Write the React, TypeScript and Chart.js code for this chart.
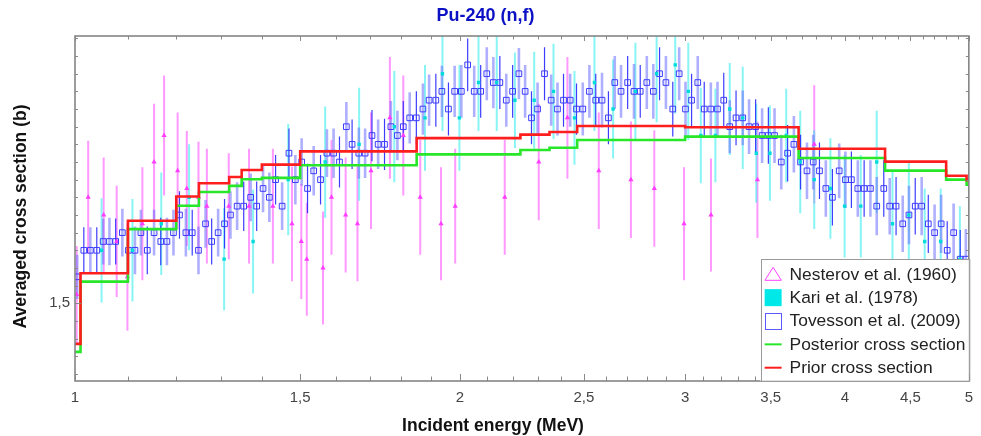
import React, { useEffect, useRef } from 'react';
import { Chart, registerables } from 'chart.js';

Chart.register(...registerables);

const FONT = "'Liberation Sans', Arial, Helvetica, sans-serif";

const chartTitle = 'Pu-240 (n,f)';
const xAxisTitle = 'Incident energy (MeV)';
const yAxisTitle = 'Averaged cross section (b)';

const xMin = 1;
const xMax = 5;
const yMin = 1.412;
const yMax = 1.8027;

const xMajorTicks = [1, 1.5, 2, 2.5, 3, 3.5, 4, 4.5, 5];
const xTickLabels = ['1', '1,5', '2', '2,5', '3', '3,5', '4', '4,5', '5'];
const xMinorTicks = [1.1, 1.2, 1.3, 1.4, 1.6, 1.7, 1.8, 1.9, 2.1, 2.2, 2.3, 2.4, 2.6, 2.7, 2.8, 2.9, 3.1, 3.2, 3.3, 3.4, 3.6, 3.7, 3.8, 3.9, 4.1, 4.2, 4.3, 4.4, 4.6, 4.7, 4.8, 4.9];
const yMajorTicks = [1.5];
const yTickLabels = ['1,5'];
const yMinorTicks = [1.42, 1.44, 1.46, 1.48, 1.52, 1.54, 1.56, 1.58, 1.6, 1.62, 1.64, 1.66, 1.68, 1.7, 1.72, 1.74, 1.76, 1.78, 1.8];

const legendLabels = ['Nesterov et al. (1960)', 'Kari et al. (1978)', 'Tovesson et al. (2009)', 'Posterior cross section', 'Prior cross section'];

// Nesterov et al. (1960)
const nesterovEnergy = [1.003, 1.024, 1.053, 1.078, 1.099, 1.129, 1.153, 1.174, 1.203, 1.223, 1.249, 1.268, 1.319, 1.368, 1.428, 1.478, 1.503, 1.518, 1.563, 1.587, 1.628, 1.663, 1.704, 1.763, 1.806, 1.862, 1.933, 1.983, 2.168, 2.305, 2.427, 2.568, 2.721, 2.838, 2.994, 3.143, 3.417, 3.785];
const nesterovXs = [1.51, 1.62, 1.60, 1.57, 1.53, 1.59, 1.66, 1.69, 1.65, 1.63, 1.62, 1.61, 1.61, 1.61, 1.61, 1.59, 1.57, 1.55, 1.54, 1.62, 1.60, 1.59, 1.65, 1.71, 1.69, 1.62, 1.59, 1.61, 1.62, 1.66, 1.71, 1.65, 1.64, 1.63, 1.59, 1.60, 1.64, 1.68];
const nesterovErr = [0.055, 0.064, 0.065, 0.063, 0.061, 0.064, 0.066, 0.068, 0.066, 0.065, 0.063, 0.065, 0.060, 0.065, 0.065, 0.065, 0.065, 0.064, 0.064, 0.065, 0.065, 0.065, 0.066, 0.069, 0.068, 0.065, 0.064, 0.065, 0.065, 0.066, 0.069, 0.066, 0.066, 0.066, 0.064, 0.064, 0.066, 0.067];

// Kari et al. (1978)
const kariEnergy = [1.049, 1.109, 1.168, 1.228, 1.308, 1.378, 1.468, 1.569, 1.668, 1.777, 1.878, 1.938, 1.998, 2.068, 2.137, 2.208, 2.286, 2.367, 2.458, 2.548, 2.635, 2.743, 2.850, 2.947, 3.017, 3.086, 3.168, 3.251, 3.328, 3.410, 3.495, 3.599, 3.691, 3.785, 3.897, 3.998, 4.116, 4.236, 4.358, 4.488, 4.618, 4.753, 4.920];
const kariXs = [1.56, 1.56, 1.59, 1.62, 1.55, 1.57, 1.64, 1.66, 1.68, 1.70, 1.71, 1.76, 1.71, 1.75, 1.75, 1.73, 1.73, 1.74, 1.71, 1.75, 1.72, 1.74, 1.76, 1.77, 1.74, 1.69, 1.69, 1.72, 1.71, 1.67, 1.67, 1.69, 1.66, 1.64, 1.63, 1.61, 1.61, 1.66, 1.59, 1.60, 1.57, 1.57, 1.55];
const kariErr = [0.059, 0.058, 0.058, 0.060, 0.058, 0.059, 0.063, 0.063, 0.064, 0.063, 0.060, 0.065, 0.060, 0.055, 0.055, 0.054, 0.055, 0.054, 0.053, 0.055, 0.056, 0.055, 0.055, 0.055, 0.055, 0.054, 0.053, 0.052, 0.058, 0.056, 0.054, 0.053, 0.058, 0.056, 0.057, 0.058, 0.058, 0.058, 0.060, 0.060, 0.060, 0.060, 0.060];

// Tovesson et al. (2009)
const tovessonEnergy = [
  1.004, 1.016, 1.028, 1.040, 1.052, 1.064, 1.076, 1.089, 1.101, 1.114,
  1.126, 1.139, 1.153, 1.167, 1.180, 1.194, 1.207, 1.221, 1.235, 1.249,
  1.265, 1.279, 1.294, 1.309, 1.323, 1.339, 1.355, 1.372, 1.387, 1.403,
  1.419, 1.435, 1.452, 1.470, 1.487, 1.504, 1.520, 1.537, 1.556, 1.574,
  1.593, 1.610, 1.630, 1.647, 1.667, 1.686, 1.707, 1.726, 1.746, 1.766,
  1.787, 1.806, 1.827, 1.849, 1.871, 1.892, 1.915, 1.936, 1.959, 1.981,
  2.005, 2.028, 2.052, 2.076, 2.099, 2.124, 2.149, 2.174, 2.199, 2.224,
  2.249, 2.275, 2.300, 2.329, 2.357, 2.384, 2.410, 2.439, 2.467, 2.495,
  2.525, 2.554, 2.583, 2.613, 2.643, 2.673, 2.705, 2.736, 2.767, 2.800,
  2.833, 2.865, 2.898, 2.934, 2.968, 3.002, 3.035, 3.069, 3.105, 3.142,
  3.180, 3.216, 3.251, 3.288, 3.328, 3.366, 3.406, 3.446, 3.485, 3.524,
  3.567, 3.608, 3.649, 3.693, 3.736, 3.778, 3.821, 3.865, 3.911, 3.959,
  4.004, 4.047, 4.094, 4.141, 4.188, 4.236, 4.290, 4.336, 4.386, 4.439,
  4.489, 4.540, 4.593, 4.648, 4.701, 4.757, 4.809, 4.865, 4.923, 4.973,
];
const tovessonXs = [
  1.53, 1.56, 1.56, 1.56, 1.57, 1.57, 1.57, 1.58, 1.56, 1.56,
  1.58, 1.56, 1.58, 1.57, 1.57, 1.58, 1.60, 1.58, 1.58, 1.56,
  1.59, 1.57, 1.58, 1.59, 1.60, 1.61, 1.61, 1.62, 1.61, 1.63,
  1.62, 1.64, 1.61, 1.67, 1.64, 1.66, 1.63, 1.65, 1.64, 1.67,
  1.67, 1.66, 1.70, 1.68, 1.67, 1.67, 1.69, 1.68, 1.68, 1.70,
  1.69, 1.70, 1.71, 1.71, 1.72, 1.73, 1.73, 1.74, 1.72, 1.74,
  1.74, 1.77, 1.74, 1.74, 1.76, 1.75, 1.75, 1.73, 1.74, 1.76,
  1.74, 1.71, 1.72, 1.76, 1.73, 1.72, 1.73, 1.73, 1.72, 1.72,
  1.74, 1.73, 1.73, 1.71, 1.75, 1.74, 1.75, 1.74, 1.74, 1.75,
  1.74, 1.76, 1.75, 1.72, 1.76, 1.72, 1.73, 1.75, 1.72, 1.72,
  1.72, 1.73, 1.70, 1.71, 1.71, 1.70, 1.70, 1.69, 1.69, 1.69,
  1.66, 1.67, 1.68, 1.66, 1.65, 1.66, 1.65, 1.63, 1.62, 1.65,
  1.64, 1.64, 1.63, 1.63, 1.63, 1.61, 1.63, 1.61, 1.61, 1.59,
  1.60, 1.61, 1.61, 1.59, 1.58, 1.59, 1.56, 1.58, 1.55, 1.55,
];
const tovessonErr = [
  0.025, 0.026, 0.026, 0.026, 0.026, 0.027, 0.026, 0.027, 0.026, 0.027,
  0.026, 0.027, 0.026, 0.027, 0.027, 0.026, 0.027, 0.027, 0.026, 0.027,
  0.027, 0.026, 0.027, 0.028, 0.027, 0.027, 0.028, 0.027, 0.028, 0.027,
  0.028, 0.028, 0.027, 0.028, 0.028, 0.027, 0.028, 0.028, 0.028, 0.027,
  0.028, 0.029, 0.028, 0.028, 0.029, 0.028, 0.029, 0.028, 0.029, 0.029,
  0.028, 0.029, 0.029, 0.030, 0.029, 0.029, 0.030, 0.029, 0.030, 0.029,
  0.030, 0.030, 0.029, 0.030, 0.030, 0.029, 0.030, 0.030, 0.030, 0.029,
  0.030, 0.030, 0.030, 0.030, 0.029, 0.030, 0.030, 0.030, 0.029, 0.030,
  0.030, 0.030, 0.031, 0.030, 0.030, 0.030, 0.030, 0.031, 0.030, 0.030,
  0.031, 0.030, 0.030, 0.031, 0.030, 0.031, 0.030, 0.030, 0.031, 0.030,
  0.031, 0.031, 0.030, 0.031, 0.031, 0.031, 0.031, 0.031, 0.032, 0.031,
  0.031, 0.032, 0.032, 0.031, 0.032, 0.031, 0.032, 0.032, 0.032, 0.031,
  0.032, 0.032, 0.032, 0.032, 0.032, 0.033, 0.032, 0.032, 0.033, 0.032,
  0.033, 0.032, 0.033, 0.033, 0.032, 0.033, 0.033, 0.033, 0.033, 0.034,
];

// Group-averaged cross sections (bin edges in MeV, one value per bin)
const stepEdges = [1.0, 1.01, 1.1, 1.2, 1.25, 1.32, 1.35, 1.4, 1.5, 1.85, 2.23, 2.35, 2.47, 3.0, 3.68, 4.3, 4.8, 4.98, 5.0];
const priorValues = [1.454, 1.534, 1.5935, 1.621, 1.636, 1.643, 1.651, 1.657, 1.672, 1.687, 1.691, 1.694, 1.7008, 1.6993, 1.675, 1.6604, 1.6445, 1.6393];
const posteriorValues = [1.445, 1.5245, 1.584, 1.6105, 1.626, 1.633, 1.6404, 1.642, 1.6563, 1.6687, 1.6736, 1.6762, 1.6849, 1.6887, 1.6646, 1.6502, 1.640, 1.6343];

const points = (xs: number[], ys: number[]) => xs.map((x, i) => ({ x, y: ys[i] }));
const steps = (edges: number[], vals: number[]) =>
  edges.map((x, i) => ({ x, y: vals[Math.min(i, vals.length - 1)] }));

const findLabel = (ticks: number[], labels: string[], v: number) => {
  const idx = ticks.findIndex((t) => Math.abs(t - v) < 1e-9);
  return idx >= 0 ? labels[idx] : '';
};

const errorBarsPlugin = {
  id: 'errorBars',
  beforeDatasetsDraw(chart: any) {
    const { ctx, chartArea: a, scales } = chart;
    const xs = scales.x;
    const ys = scales.y;
    ctx.save();
    ctx.beginPath();
    ctx.rect(a.left, a.top, a.right - a.left, a.bottom - a.top);
    ctx.clip();
    chart.data.datasets.forEach((ds: any) => {
      if (!ds.errorBars) return;
      ds.data.forEach((p: any, i: number) => {
        const e = ds.errorBars[i];
        if (e == null) return;
        const px = xs.getPixelForValue(p.x);
        const y1 = ys.getPixelForValue(p.y - e);
        const y2 = ys.getPixelForValue(p.y + e);
        const alt = ds.errorAltColor && (i % 5 === 1 || i % 5 === 3);
        ctx.strokeStyle = alt ? ds.errorAltColor : ds.errorColor;
        ctx.lineWidth = alt ? ds.errorAltWidth : ds.errorWidth;
        ctx.beginPath();
        ctx.moveTo(px, y1);
        ctx.lineTo(px, y2);
        ctx.stroke();
      });
    });
    ctx.restore();
  },
};

const frameTicksPlugin = {
  id: 'frameTicks',
  afterDatasetsDraw(chart: any) {
    const { ctx, chartArea: a, scales } = chart;
    const xs = scales.x;
    const ys = scales.y;
    ctx.save();
    ctx.strokeStyle = '#8a8a8a';
    ctx.lineWidth = 1;
    const xTick = (v: number, lenB: number, lenT: number) => {
      const px = Math.round(xs.getPixelForValue(v)) + 0.5;
      ctx.beginPath();
      ctx.moveTo(px, a.bottom);
      ctx.lineTo(px, a.bottom - lenB);
      ctx.moveTo(px, a.top);
      ctx.lineTo(px, a.top + lenT);
      ctx.stroke();
    };
    const yTick = (v: number, lenL: number, lenR: number) => {
      const py = Math.round(ys.getPixelForValue(v)) + 0.5;
      ctx.beginPath();
      ctx.moveTo(a.left, py);
      ctx.lineTo(a.left + lenL, py);
      ctx.moveTo(a.right, py);
      ctx.lineTo(a.right - lenR, py);
      ctx.stroke();
    };
    xMinorTicks.forEach((v) => xTick(v, 4.5, 3.5));
    xMajorTicks.forEach((v) => xTick(v, 7, 5));
    yMinorTicks.forEach((v) => yTick(v, 3, 3));
    yMajorTicks.forEach((v) => yTick(v, 6, 5));
    ctx.strokeStyle = '#858585';
    ctx.lineWidth = 1.6;
    ctx.strokeRect(a.left, a.top, a.right - a.left, a.bottom - a.top);
    ctx.restore();
  },
};

const axisTitlesPlugin = {
  id: 'axisTitles',
  afterDraw(chart: any) {
    const { ctx, width } = chart;
    ctx.save();
    ctx.fillStyle = '#111111';
    ctx.font = `bold 17.5px ${FONT}`;
    ctx.textAlign = 'center';
    ctx.textBaseline = 'alphabetic';
    ctx.fillText(xAxisTitle, width / 2 + 2.5, 431);
    ctx.translate(25.5, 216.5);
    ctx.rotate(-Math.PI / 2);
    ctx.fillText(yAxisTitle, 0, 0);
    ctx.restore();
  },
};

const legendBoxPlugin = {
  id: 'legendBox',
  afterDraw(chart: any) {
    const { ctx, chartArea: a } = chart;
    const w = 208.3;
    const h = 121.7;
    const left = a.right - w;
    const top = a.bottom - h;
    ctx.save();
    ctx.fillStyle = '#ffffff';
    ctx.fillRect(left, top, w, h);
    ctx.strokeStyle = '#9a9a9a';
    ctx.lineWidth = 1;
    ctx.strokeRect(Math.round(left) + 0.5, Math.round(top) + 0.5, w, h);
    ctx.font = `17.4px ${FONT}`;
    ctx.textAlign = 'left';
    ctx.textBaseline = 'middle';
    const sx = left + 12.6;
    chart.data.datasets.forEach((ds: any, i: number) => {
      const cy = top + 15 + i * 23.35;
      const sym = ds.legendSymbol;
      if (sym === 'triangle') {
        ctx.strokeStyle = '#ff40ff';
        ctx.lineWidth = 1;
        ctx.beginPath();
        ctx.moveTo(sx, cy - 7);
        ctx.lineTo(sx + 8.2, cy + 6);
        ctx.lineTo(sx - 8.2, cy + 6);
        ctx.closePath();
        ctx.stroke();
      } else if (sym === 'filledSquare') {
        ctx.fillStyle = '#00e8e8';
        ctx.fillRect(sx - 8.5, cy - 8.5, 17, 17);
      } else if (sym === 'openSquare') {
        ctx.strokeStyle = '#5a5aff';
        ctx.lineWidth = 1;
        ctx.strokeRect(Math.round(sx - 8.5) + 0.5, Math.round(cy - 8.5) + 0.5, 16, 16);
      } else if (sym === 'line') {
        ctx.strokeStyle = ds.borderColor;
        ctx.lineWidth = 2;
        ctx.beginPath();
        ctx.moveTo(sx - 8.5, cy);
        ctx.lineTo(sx + 8.5, cy);
        ctx.stroke();
      }
      ctx.fillStyle = '#222222';
      ctx.fillText(ds.label, left + 29, cy + 0.5);
    });
    ctx.restore();
  },
};

export default function App() {
  const canvasRef = useRef<HTMLCanvasElement | null>(null);

  useEffect(() => {
    const canvas = canvasRef.current;
    if (!canvas) return;
    Chart.defaults.font.family = FONT;

    const chart = new Chart(canvas, {
      type: 'scatter',
      data: {
        datasets: [
          {
            label: legendLabels[0],
            data: points(nesterovEnergy, nesterovXs),
            pointStyle: 'triangle',
            pointRadius: 3,
            backgroundColor: '#ff3cff',
            borderColor: '#ff3cff',
            borderWidth: 0,
            order: 4,
            errorBars: nesterovErr,
            errorColor: 'rgba(255, 70, 255, 0.55)',
            errorWidth: 2,
            legendSymbol: 'triangle',
          } as any,
          {
            label: legendLabels[1],
            data: points(kariEnergy, kariXs),
            pointStyle: 'rect',
            pointRadius: 2.4,
            backgroundColor: '#00dcdc',
            borderColor: '#00dcdc',
            borderWidth: 0,
            order: 2,
            errorBars: kariErr,
            errorColor: 'rgba(40, 235, 235, 0.55)',
            errorWidth: 2,
            legendSymbol: 'filledSquare',
          } as any,
          {
            label: legendLabels[2],
            data: points(tovessonEnergy, tovessonXs),
            pointStyle: 'rect',
            pointRadius: 4.0,
            backgroundColor: 'rgba(255,255,255,0)',
            borderColor: '#3c3cff',
            borderWidth: 1,
            order: 3,
            errorBars: tovessonErr,
            errorColor: 'rgba(110, 110, 255, 0.55)',
            errorWidth: 2.6,
            errorAltColor: 'rgba(40, 40, 255, 0.9)',
            errorAltWidth: 1.2,
            legendSymbol: 'openSquare',
          } as any,
          {
            type: 'line',
            label: legendLabels[3],
            data: steps(stepEdges, posteriorValues),
            showLine: true,
            stepped: true,
            pointRadius: 0,
            borderColor: 'rgb(40, 230, 40)',
            borderWidth: 2.6,
            fill: false,
            order: 1,
            legendSymbol: 'line',
          } as any,
          {
            type: 'line',
            label: legendLabels[4],
            data: steps(stepEdges, priorValues),
            showLine: true,
            stepped: true,
            pointRadius: 0,
            borderColor: 'rgb(255, 30, 30)',
            borderWidth: 2.6,
            fill: false,
            order: 0,
            legendSymbol: 'line',
          } as any,
        ],
      },
      options: {
        animation: false,
        responsive: false,
        events: [],
        layout: { padding: { left: 0, right: 10, top: 0, bottom: 0 } },
        plugins: {
          legend: { display: false },
          tooltip: { enabled: false },
          title: {
            display: true,
            text: chartTitle,
            color: '#0c12c4',
            font: { size: 18, weight: 'bold', family: FONT, lineHeight: 1.2 },
            padding: { top: 5, bottom: 9.4 },
          },
        },
        scales: {
          x: {
            type: 'logarithmic',
            min: xMin,
            max: xMax,
            grid: { display: false, drawTicks: false },
            border: { display: false },
            ticks: {
              autoSkip: false,
              maxRotation: 0,
              minRotation: 0,
              padding: 8,
              color: '#444444',
              font: { size: 15, family: FONT },
              callback: (v: any) => findLabel(xMajorTicks, xTickLabels, Number(v)),
            },
            afterBuildTicks: (s: any) => {
              s.ticks = xMajorTicks.map((value) => ({ value }));
            },
            afterFit: (s: any) => {
              s.height = 55;
            },
          },
          y: {
            type: 'linear',
            min: yMin,
            max: yMax,
            grid: { display: false, drawTicks: false },
            border: { display: false },
            ticks: {
              padding: 5,
              color: '#444444',
              font: { size: 15, family: FONT },
              callback: (v: any) => findLabel(yMajorTicks, yTickLabels, Number(v)),
            },
            afterBuildTicks: (s: any) => {
              s.ticks = yMajorTicks.map((value) => ({ value }));
            },
            afterFit: (s: any) => {
              s.width = 75;
            },
          },
        },
      } as any,
      plugins: [errorBarsPlugin, frameTicksPlugin, axisTitlesPlugin, legendBoxPlugin],
    });

    return () => chart.destroy();
  }, []);

  return (
    <div style={{ position: 'absolute', left: 0, top: 0, width: 981, height: 436, background: '#ffffff' }}>
      <canvas ref={canvasRef} width={981} height={436} style={{ display: 'block', width: 981, height: 436 }} />
    </div>
  );
}
